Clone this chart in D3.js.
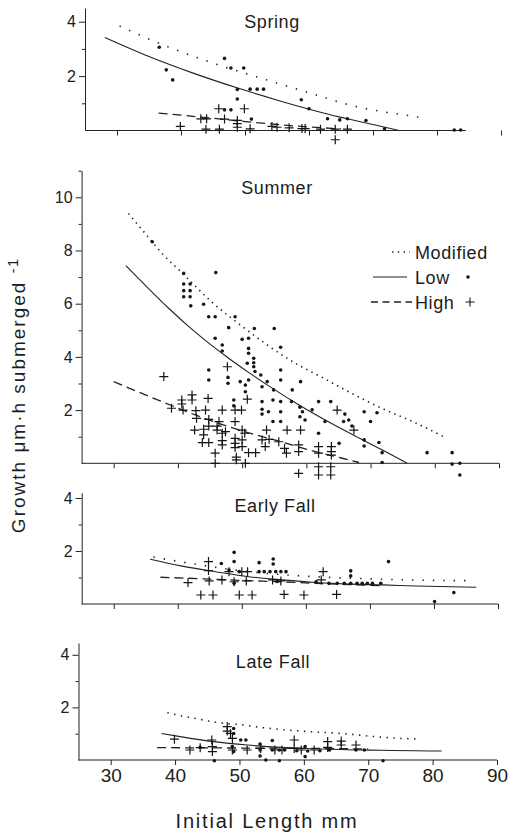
<!DOCTYPE html>
<html>
<head>
<meta charset="UTF-8">
<title>Growth by season</title>
<script src="https://cdnjs.cloudflare.com/ajax/libs/d3/7.8.5/d3.min.js"></script>
<style>
    body { margin: 0; background: #fff; }
    svg text { font-family: "Liberation Sans", Arial, sans-serif; fill: #1c1c1c; }
    .axis path, .axis line { stroke: #222; stroke-width: 1; }
    .axis text { font-family: "Liberation Sans", Arial, sans-serif; fill: #1c1c1c; }
</style>
</head>
<body>
<div id="chart"></div>
<script>
    // x ticks shared by all four panels (initial length, mm)
    const xTicks = [30, 40, 50, 60, 70, 80, 90];

    // ---- Spring ----
    const springLow = [[36.6,3.06],[37.7,2.23],[38.7,1.86],[46.8,2.65],[47.8,2.30],[49.8,2.30],[48.8,1.51],[48.8,1.16],
        [50.8,1.52],[51.9,1.52],[52.9,1.52],[58.8,1.13],[60.0,0.80],[62.9,0.43],[64.8,0.39],[66.0,0.43],[68.9,0.37],
        [71.8,0.06],[82.7,0.02],[83.7,0.02],[46.8,0.76],[47.8,0.76],[51.0,0.42]];
    const springHigh = [[45.9,0.80],[49.9,0.80],[43.1,0.43],[44.0,0.43],[46.8,0.42],[48.8,0.37],[48.8,0.25],[48.8,0.12],
        [39.9,0.15],[43.9,0.05],[46.0,0.05],[50.8,0.06],[54.2,0.15],[55.0,0.12],[56.9,0.10],[58.9,0.07],[59.4,0.07],
        [61.8,0.05],[64.1,0.05],[64.1,-0.34],[66.0,0.05]];
    const springLowFit = [[28.1,3.42],[35,2.72],[42,2.10],[49,1.55],[56,1.05],[63,0.60],[70,0.22],[74.1,0]];
    const springHighFit = [[36.5,0.64],[45,0.45],[50,0.33],[55,0.22],[60,0.13],[65,0.06]];
    const springModified = [[30.4,3.84],[37.8,3.09],[46,2.40],[54.1,1.81],[60.4,1.36],[66,0.96],[72,0.67],[75,0.57],[77.5,0.47]];

    // ---- Summer ----
    const summerLow = [[36.0,8.33],[40.9,7.14],[45.9,7.17],[40.9,6.74],[41.9,6.74],[40.9,6.49],[41.9,6.49],[40.9,6.26],
        [41.9,6.26],[42.0,5.92],[44.0,5.98],[44.8,5.51],[45.8,5.51],[48.9,5.51],[47.9,5.10],[51.9,5.07],[55.0,5.07],
        [45.8,4.70],[46.9,4.45],[46.9,4.22],[50.0,4.66],[51.0,4.70],[51.0,4.32],[51.0,4.14],[51.8,3.95],[51.8,3.78],
        [51.8,3.63],[50.8,3.76],[52.0,3.45],[52.9,3.32],[51.0,3.13],[49.7,3.07],[53.9,3.07],[56.0,4.36],[56.0,3.51],
        [56.0,3.13],[54.9,2.76],[53.1,2.88],[44.8,3.51],[44.8,3.13],[47.8,3.23],[47.8,3.01],[48.7,2.38],[48.7,2.16],
        [50.5,2.94],[50.5,2.69],[53.1,2.32],[53.1,2.03],[53.1,1.85],[54.1,1.94],[54.8,2.38],[54.8,1.57],[56.0,2.32],
        [56.0,1.94],[56.0,1.57],[57.8,2.76],[57.7,2.32],[59.1,3.07],[59.0,2.11],[59.4,1.94],[59.0,1.75],[59.8,1.63],
        [60.9,2.01],[61.9,2.32],[63.8,2.32],[61.9,1.13],[62.9,1.57],[66.0,1.85],[65.8,1.57],[66.6,1.63],[67.1,1.40],
        [69.0,1.94],[71.0,1.90],[70.0,1.57],[69.0,0.88],[69.0,0.65],[71.3,0.78],[71.8,0.40],[71.8,0.03],[65.1,0.75],
        [78.8,0.40],[82.7,0.40],[82.7,-0.03],[83.9,0.0],[83.9,-0.44]];
    const summerHigh = [[37.8,3.26],[47.7,3.63],[40.6,2.38],[40.6,2.23],[42.2,2.57],[42.2,2.38],[44.7,2.44],[39.0,2.07],
        [40.8,2.0],[42.8,1.98],[44.3,2.0],[46.9,2.0],[48.9,2.0],[49.9,2.0],[50.8,2.41],[42.9,1.69],[44.8,1.65],
        [46.4,1.57],[44.8,1.40],[46.1,1.40],[48.9,1.57],[42.6,1.25],[44.0,1.28],[46.1,1.25],[47.4,1.19],[50.0,1.25],
        [50.4,1.13],[53.8,1.25],[57.0,1.25],[59.1,1.25],[44.0,1.07],[46.9,1.13],[43.8,0.78],[44.8,0.78],[46.9,0.85],
        [46.9,0.69],[48.9,0.94],[48.9,0.75],[48.9,0.59],[50.0,0.88],[50.0,0.63],[53.1,0.88],[54.2,0.90],[55.7,0.81],
        [53.6,0.63],[56.6,0.56],[56.9,0.38],[58.8,0.69],[58.8,0.44],[51.0,0.40],[52.1,0.40],[45.8,0.38],[49.1,0.23],
        [49.1,0.13],[61.9,0.63],[61.9,0.38],[63.9,0.63],[63.9,0.44],[63.9,0.31],[64.8,2.0],[67.4,1.25],[50.5,0.0],
        [45.8,0.0],[58.8,-0.38],[61.9,-0.13],[61.9,-0.44],[63.8,-0.13],[63.8,-0.44]];
    const summerLowFit = [[31.9,7.43],[35.5,6.55],[38.6,5.82],[41.7,5.14],[44.8,4.52],[47.9,3.95],[51,3.42],[54.2,2.90],
        [58.8,2.20],[63.5,1.55],[68.2,0.95],[72,0.48],[75.7,0]];
    const summerHighFit = [[30,3.07],[37.5,2.32],[44.8,1.63],[50,1.22],[56.2,0.80],[61.4,0.44],[65.6,0.19],[68.2,0.03]];
    const summerModified = [[32.3,9.39],[34.7,8.70],[37.5,7.90],[40.9,7.10],[45.1,6.10],[50,5.15],[54.2,4.40],[58.3,3.76],
        [62.5,3.22],[68.1,2.50],[72.1,2.03],[76,1.63],[81.4,1.0]];

    // ---- Early Fall ----
    const earlyLow = [[48.8,1.95],[48.8,1.60],[46.8,1.53],[52.7,1.56],[54.9,1.70],[54.9,1.51],[48.0,1.28],[49.6,1.22],
        [52.7,1.22],[53.5,1.22],[54.4,1.22],[55.3,1.22],[56.1,1.22],[56.9,1.22],[61.6,0.84],[63.6,0.78],[64.9,0.78],
        [66.0,0.78],[67.0,0.78],[68.0,0.78],[68.8,0.78],[69.6,0.78],[70.4,0.78],[71.7,0.78],[67.0,1.25],[67.0,1.06],
        [72.9,1.60],[83.1,0.43],[80.1,0.09],[48.8,0.78],[55.5,0.85]];
    const earlyHigh = [[44.8,1.60],[44.8,1.26],[41.6,0.81],[43.6,0.34],[45.5,0.34],[49.6,0.34],[51.6,0.34],[56.6,0.36],
        [59.7,0.34],[64.8,0.36],[48.0,1.22],[50.0,1.22],[50.9,1.22],[46.9,0.91],[48.8,0.84],[50.7,0.87],[54.8,0.91],
        [56.1,0.87],[62.7,1.22],[62.4,0.91],[44.9,0.87]];
    const earlyLowFit = [[35.7,1.69],[40.7,1.43],[45.9,1.22],[51.1,1.03],[56.3,0.91],[61.6,0.81],[66.8,0.75],[72,0.72],
        [77.2,0.68],[86.6,0.63]];
    const earlyHighFit = [[37.3,1.01],[44,0.95],[51.1,0.88],[56,0.84],[61.6,0.78],[66.8,0.73],[72,0.69]];
    const earlyModified = [[36.2,1.77],[42.3,1.52],[50,1.25],[60,1.05],[70,0.95],[80,0.89],[85.3,0.88]];

    // ---- Late Fall ----
    const lateLow = [[49.1,1.20],[49.1,1.01],[50.2,0.76],[51.0,0.76],[53.2,0.61],[55.1,0.74],[53.2,0.38],[53.2,0.15],
        [55.1,0.38],[56.2,0.38],[57.0,0.38],[58.9,0.35],[60.2,0.51],[60.2,0.13],[60.6,0.34],[68.1,0.38],[69.4,0.38],
        [46.1,-0.03],[54.1,0],[56.2,-0.03],[72.3,-0.03],[48.9,0.51],[49.1,0.32],[43.9,0.48],[62.5,0.35],[64.0,0.38]];
    const lateHigh = [[39.9,0.79],[42.3,0.38],[43.9,0.47],[45.7,0.76],[45.8,0.51],[45.8,0.32],[48.1,1.27],[48.1,1.10],
        [48.6,1.01],[48.9,0.82],[48.9,0.38],[51.2,0.38],[53.3,0.44],[55.5,0.38],[56.6,0.38],[58.5,0.76],[58.5,0.44],
        [59.6,0.38],[61.6,0.38],[63.7,0.70],[63.7,0.48],[65.8,0.72],[65.8,0.57],[68.1,0.57]];
    const lateLowFit = [[37.9,1.01],[40.8,0.89],[46.0,0.70],[51.2,0.57],[56.4,0.48],[61.6,0.43],[66.8,0.39],[72,0.37],
        [77.2,0.35],[81.4,0.34]];
    const lateHighFit = [[37.2,0.47],[45,0.46],[55,0.45],[62,0.44],[70,0.42]];
    const lateModified = [[38.8,1.80],[41.2,1.67],[43.2,1.58],[45.2,1.48],[47.8,1.39],[50.7,1.33],[53.3,1.24],[58.5,1.12],
        [62.2,1.06],[65.8,1.01],[71.0,0.89],[75.2,0.82],[77.5,0.80]];

    const legendLabels = ["Modified", "Low", "High"];

    // where each panel sits on the page (scan is a little skewed, so each has its own frame)
    const panels = [
        {title: "Spring", low: springLow, high: springHigh, lowFit: springLowFit, highFit: springHighFit, modified: springModified,
         left: 85, right: 501, base: 130.5, unit: 27.2, top: 4.5, titleX: 272, titleY: 28, dots: "1.4,9", axisEnd: 84.5},
        {title: "Summer", low: summerLow, high: summerHigh, lowFit: summerLowFit, highFit: summerHighFit, modified: summerModified,
         left: 81.6, right: 499, base: 463.3, unit: 26.6, top: 11, titleX: 277, titleY: 194, dots: "1.4,4.4", axisEnd: 90},
        {title: "Early Fall", low: earlyLow, high: earlyHigh, lowFit: earlyLowFit, highFit: earlyHighFit, modified: earlyModified,
         left: 81.7, right: 498, base: 604, unit: 26.5, top: 4.2, titleX: 275, titleY: 512, dots: "1.4,9", axisEnd: 90},
        {title: "Late Fall", low: lateLow, high: lateHigh, lowFit: lateLowFit, highFit: lateHighFit, modified: lateModified,
         left: 78.5, right: 497, base: 760, unit: 26.3, top: 4.45, titleX: 273, titleY: 668, dots: "1.4,5.5", axisEnd: 90}
    ];

    const svg = d3.select("#chart").append("svg")
        .attr("width", 508)
        .attr("height", 840);

    const crossPath = "M-4.5,0H4.5M0,-4.5V4.5";

    panels.forEach((p, i) => {
        const x = d3.scaleLinear().domain([25, 90]).range([p.left, p.right]);
        const y = d3.scaleLinear().domain([0, p.top]).range([p.base, p.base - p.top * p.unit]);
        const g = svg.append("g");
        const isLast = i === panels.length - 1;

        // x axis along zero
        const xAxis = d3.axisBottom(x).tickValues(xTicks).tickSize(5).tickSizeOuter(0).tickPadding(4)
            .tickFormat(isLast ? d3.format("d") : () => "");
        const xg = g.append("g").attr("class", "axis")
            .attr("transform", `translate(0,${y(0)})`)
            .call(xAxis);
        xg.select(".domain").attr("d", `M${x(25)},0H${x(p.axisEnd)}`);
        xg.selectAll("text").style("font-size", "19px");

        // y axis: labelled even ticks, short odd ones
        const majors = d3.range(2, Math.floor(p.top) + 1, 2);
        const minors = d3.range(1, Math.floor(p.top) + 1, 2);
        const yg = g.append("g").attr("class", "axis")
            .attr("transform", `translate(${x(25)},0)`)
            .call(d3.axisLeft(y).tickValues(majors).tickSize(6).tickSizeOuter(0).tickPadding(3).tickFormat(d3.format("d")));
        yg.selectAll("text").style("font-size", "16px");
        g.append("g").attr("class", "axis")
            .attr("transform", `translate(${x(25)},0)`)
            .call(d3.axisLeft(y).tickValues(minors).tickSize(3).tickSizeOuter(0).tickFormat(() => ""))
            .select(".domain").remove();

        g.append("text")
            .attr("x", p.titleX).attr("y", p.titleY)
            .attr("text-anchor", "middle")
            .style("font-size", "18px").style("letter-spacing", "0.6px")
            .text(p.title);

        const line = d3.line().x(d => x(d[0])).y(d => y(d[1])).curve(d3.curveMonotoneX);

        g.append("path").datum(p.modified).attr("d", line)
            .attr("fill", "none").attr("stroke", "#222").attr("stroke-width", 1.6)
            .attr("stroke-dasharray", p.dots);
        g.append("path").datum(p.lowFit).attr("d", line)
            .attr("fill", "none").attr("stroke", "#222").attr("stroke-width", 1.1);
        g.append("path").datum(p.highFit).attr("d", line)
            .attr("fill", "none").attr("stroke", "#222").attr("stroke-width", 1.3)
            .attr("stroke-dasharray", "9,5");

        g.selectAll("circle.low").data(p.low).enter().append("circle")
            .attr("class", "low")
            .attr("cx", d => x(d[0])).attr("cy", d => y(d[1]))
            .attr("r", 1.8).attr("fill", "#151515");

        g.selectAll("path.high").data(p.high).enter().append("path")
            .attr("class", "high")
            .attr("transform", d => `translate(${x(d[0])},${y(d[1])})`)
            .attr("d", crossPath)
            .attr("stroke", "#151515").attr("stroke-width", 1.2);
    });

    // legend in the summer panel
    const legend = svg.append("g").style("font-size", "18px");
    const legendY = [252, 277, 302];
    legend.append("line").attr("x1", 392).attr("x2", 410).attr("y1", legendY[0]).attr("y2", legendY[0])
        .attr("stroke", "#222").attr("stroke-width", 1.6).attr("stroke-dasharray", "1.4,4.4");
    legend.append("line").attr("x1", 373).attr("x2", 407).attr("y1", legendY[1]).attr("y2", legendY[1])
        .attr("stroke", "#222").attr("stroke-width", 1.1);
    legend.append("line").attr("x1", 371).attr("x2", 412).attr("y1", legendY[2]).attr("y2", legendY[2])
        .attr("stroke", "#222").attr("stroke-width", 1.3).attr("stroke-dasharray", "7,4.5");
    legendLabels.forEach((t, i) => {
        legend.append("text").attr("x", 415).attr("y", legendY[i] + 6.5)
            .style("letter-spacing", "0.6px").text(t);
    });
    legend.append("circle").attr("cx", 468).attr("cy", legendY[1]).attr("r", 1.8).attr("fill", "#151515");
    legend.append("path").attr("transform", `translate(470,${legendY[2]})`).attr("d", crossPath)
        .attr("stroke", "#151515").attr("stroke-width", 1.1);

    // axis titles
    const yTitle = svg.append("text")
        .attr("transform", "translate(25,395) rotate(-90)")
        .attr("text-anchor", "middle")
        .style("font-size", "19px").style("letter-spacing", "2px");
    yTitle.append("tspan").text("Growth  \u03bcm\u00b7h  submerged ");
    yTitle.append("tspan").attr("dy", -7).style("font-size", "14px").text("-1");

    svg.append("text")
        .attr("x", 267).attr("y", 828)
        .attr("text-anchor", "middle")
        .style("font-size", "20px").style("letter-spacing", "1.8px")
        .text("Initial Length mm");
</script>
</body>
</html>
